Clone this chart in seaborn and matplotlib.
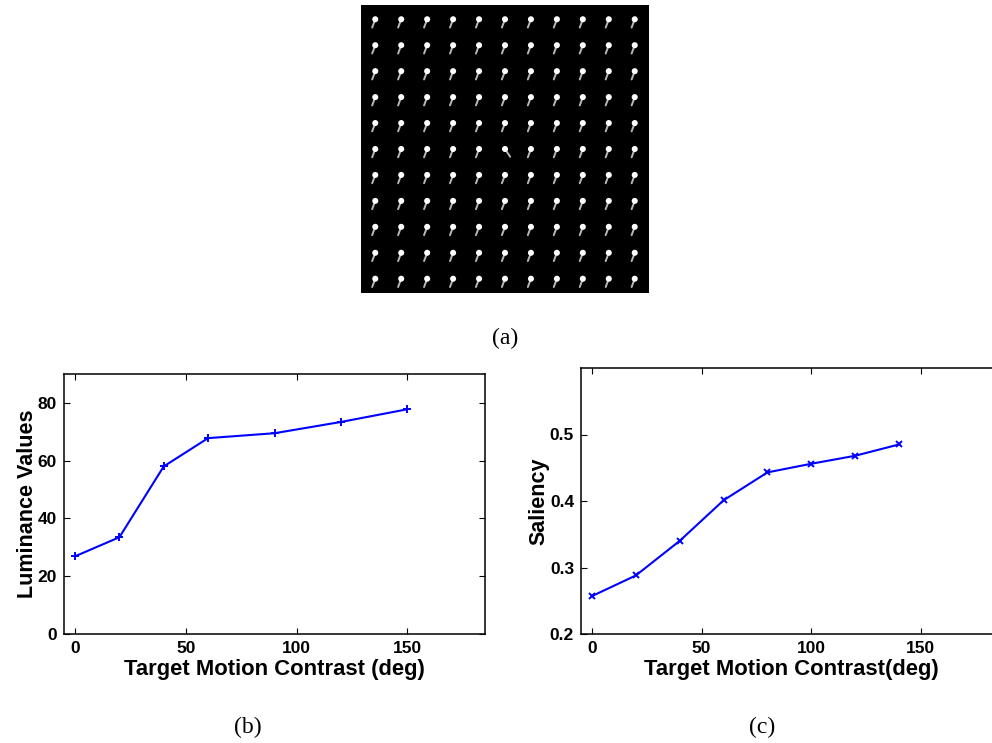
import numpy as np
import matplotlib
matplotlib.use("Agg")
import matplotlib.pyplot as plt
import seaborn as sns

# Stimulus layout: an 11 x 11 array of moving dots, the centre one moves differently
grid_size = 11
target_row, target_col = 5, 5
distractor_trail = (-0.12, 0.32)   # trail offset (columns, rows) for the background dots
target_trail = (0.20, 0.30)        # trail offset for the odd-one-out dot

# Panel (b): luminance response vs target motion contrast
contrast_lum = [0, 20, 40, 60, 90, 120, 150]
luminance = [26.9, 33.5, 58.0, 67.8, 69.5, 73.4, 77.8]

# Panel (c): saliency vs target motion contrast
contrast_sal = [0, 20, 40, 60, 80, 100, 120, 140]
saliency = [0.257, 0.288, 0.340, 0.401, 0.443, 0.456, 0.468, 0.485]

lum_yticks = [0, 20, 40, 60, 80]
sal_yticks = [0.2, 0.3, 0.4, 0.5]
xticks = [0, 50, 100, 150]

sns.set_style("ticks")
plt.rcParams["font.family"] = ["Liberation Sans", "DejaVu Sans"]
plt.rcParams["font.weight"] = "bold"
for key in ("text.color", "axes.labelcolor", "xtick.color", "ytick.color", "axes.edgecolor"):
    plt.rcParams[key] = "black"

W, H = 992, 743
fig = plt.figure(figsize=(W / 100, H / 100), dpi=100)


def frac(left, top, right, bottom):
    return [left / W, 1 - bottom / H, (right - left) / W, (bottom - top) / H]


# ---- (a) stimulus ----
ax_img = fig.add_axes(frac(361, 5, 649, 293))
ax_img.set_facecolor("black")
rows, cols = np.meshgrid(np.arange(grid_size), np.arange(grid_size), indexing="ij")
rows = rows.ravel()
cols = cols.ravel()
is_target = (rows == target_row) & (cols == target_col)
for r, c, t in zip(rows, cols, is_target):
    dx, dy = target_trail if t else distractor_trail
    ax_img.plot([c, c + dx], [r, r + dy], color="0.72", lw=1.4,
                solid_capstyle="round", zorder=1)
ax_img.scatter(cols, rows, s=19, color="white", edgecolors="none", zorder=2)
ax_img.set_xlim(-0.55, grid_size - 0.45)
ax_img.set_ylim(grid_size - 0.45, -0.55)
ax_img.set_xticks([])
ax_img.set_yticks([])
for sp in ax_img.spines.values():
    sp.set_visible(False)


def style_axes(ax):
    ax.tick_params(direction="in", top=True, right=True, length=4, width=0.8,
                   labelsize=12.5, pad=5, colors="black")
    for sp in ax.spines.values():
        sp.set_visible(True)
        sp.set_linewidth(1.1)
        sp.set_color("black")
    for lab in ax.get_xticklabels() + ax.get_yticklabels():
        lab.set_fontweight("bold")


# ---- (b) luminance ----
ax_b = fig.add_axes(frac(64, 374, 485, 634))
sns.lineplot(x=contrast_lum, y=luminance, ax=ax_b, color="blue", lw=1.5,
             marker="+", markersize=6, markeredgewidth=1.4, markeredgecolor="blue")
ax_b.set_xlim(-5, 185)
ax_b.set_ylim(0, 90)
ax_b.set_xticks(xticks)
ax_b.set_yticks(lum_yticks)
style_axes(ax_b)
ax_b.set_xlabel("Target Motion Contrast (deg)", fontsize=15.8, fontweight="bold", labelpad=2)
ax_b.set_ylabel("Luminance Values", fontsize=15.5, fontweight="bold", labelpad=0)

# ---- (c) saliency ----
ax_c = fig.add_axes(frac(581, 368, 1002, 634))
sns.lineplot(x=contrast_sal, y=saliency, ax=ax_c, color="blue", lw=1.5,
             marker="x", markersize=4.5, markeredgewidth=1.4, markeredgecolor="blue")
ax_c.set_xlim(-5, 187)
ax_c.set_ylim(0.2, 0.6)
ax_c.set_xticks(xticks)
ax_c.set_yticks(sal_yticks)
ax_c.set_yticklabels([f"{v:.1f}" for v in sal_yticks])
style_axes(ax_c)
ax_c.set_xlabel("Target Motion Contrast(deg)", fontsize=15.8, fontweight="bold", labelpad=2)
ax_c.set_ylabel("Saliency", fontsize=15.5, fontweight="bold", labelpad=0)

# ---- panel captions ----
cap = dict(fontsize=17, family=["Liberation Serif", "DejaVu Serif"], fontweight="normal",
           ha="center", va="center")
fig.text(505 / W, 1 - 338 / H, "(a)", **cap)
fig.text(248 / W, 1 - 727 / H, "(b)", **cap)
fig.text(762 / W, 1 - 727 / H, "(c)", **cap)

fig.savefig("out.png", dpi=100, facecolor="white")
